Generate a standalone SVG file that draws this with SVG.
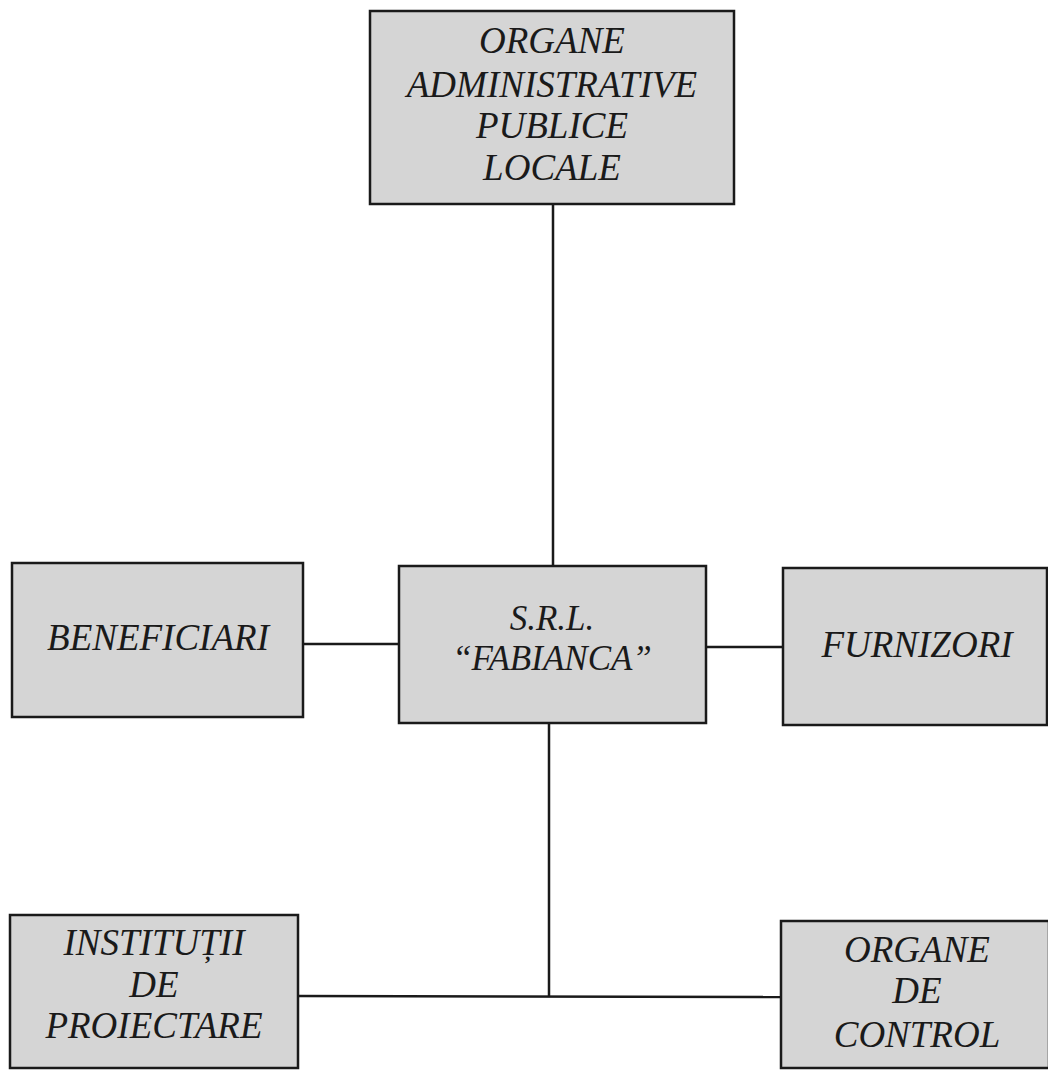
<svg xmlns="http://www.w3.org/2000/svg" width="1048" height="1070" viewBox="0 0 1048 1070">
<style>
.box{fill:#d5d5d5;stroke:#1a1a1a;stroke-width:2.5}
.t{font-family:"Liberation Serif","Times New Roman",serif;font-style:italic;font-size:37px;fill:#1a1a1a;text-anchor:middle}
.s{font-size:35px}
.c{stroke:#1a1a1a;stroke-width:2.5;fill:none}
</style>
<rect width="1048" height="1070" fill="#ffffff"/>
<g id="connectors">
<line class="c" x1="553" y1="204" x2="553" y2="566"/>
<line class="c" x1="303" y1="644" x2="399" y2="644"/>
<line class="c" x1="706" y1="647" x2="783" y2="647"/>
<line class="c" x1="549" y1="723" x2="549" y2="996"/>
<line class="c" x1="298" y1="996" x2="781" y2="997"/>
</g>
<g id="node-organe-administrative">
<rect class="box" x="370" y="11" width="364" height="193"/>
<text class="t" x="552" y="53">ORGANE</text>
<text class="t" x="552" y="97">ADMINISTRATIVE</text>
<text class="t" x="552" y="138">PUBLICE</text>
<text class="t" x="552" y="180">LOCALE</text>
</g>
<g id="node-beneficiari">
<rect class="box" x="12" y="563" width="291" height="154"/>
<text class="t" x="158" y="650">BENEFICIARI</text>
</g>
<g id="node-fabianca">
<rect class="box" x="399" y="566" width="307" height="157"/>
<text class="t s" x="552" y="630">S.R.L.</text>
<text class="t s" x="552" y="670">“FABIANCA”</text>
</g>
<g id="node-furnizori">
<rect class="box" x="783" y="568" width="264" height="157"/>
<text class="t" x="917" y="657">FURNIZORI</text>
</g>
<g id="node-institutii">
<rect class="box" x="10" y="915" width="288" height="153"/>
<text class="t" x="154" y="955">INSTITUȚII</text>
<text class="t" x="154" y="997">DE</text>
<text class="t" x="154" y="1038">PROIECTARE</text>
</g>
<g id="node-organe-control">
<rect class="box" x="781" y="921" width="268" height="147"/>
<text class="t" x="917" y="962">ORGANE</text>
<text class="t" x="917" y="1003">DE</text>
<text class="t" x="917" y="1047">CONTROL</text>
</g>
</svg>
